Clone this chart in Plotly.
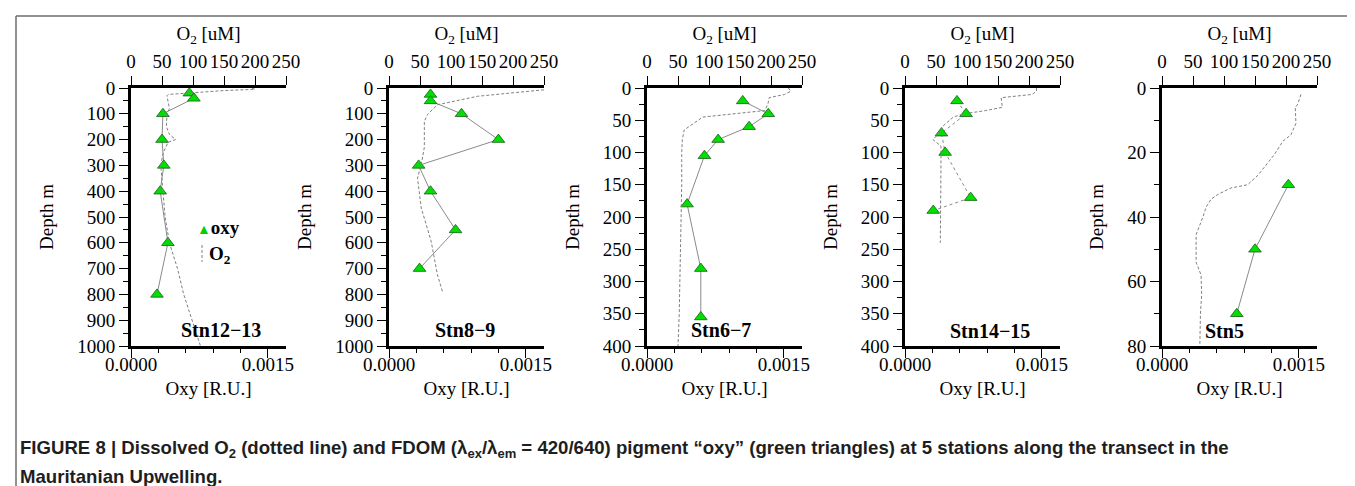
import plotly.graph_objects as go

W, H = 1355, 486

# ---------------- data ----------------
stations = ["Stn12\u221213", "Stn8\u22129", "Stn6\u22127", "Stn14\u221215", "Stn5"]

oxy_depth_1 = [20, 40, 100, 200, 300, 400, 600, 800]
oxy_val_1 = [0.00064, 0.00069, 0.00035, 0.00034, 0.00036, 0.00032, 0.000405, 0.000285]
o2_depth_1 = [0, 5, 10, 20, 25, 30, 50, 80, 100, 150, 180, 200, 210, 250, 300, 350, 400, 500, 600, 700, 800, 900, 1000]
o2_val_1 = [195, 200, 150, 80, 60, 58, 60, 62, 58, 57, 62, 72, 60, 52, 48, 50, 52, 55, 62, 75, 85, 98, 112]

oxy_depth_2 = [25, 50, 100, 200, 300, 400, 550, 700]
oxy_val_2 = [0.000455, 0.000455, 0.000795, 0.00120, 0.000325, 0.000455, 0.00073, 0.000335]
o2_depth_2 = [7, 19, 32, 65, 103, 129, 230, 297, 349, 465, 594, 723, 795]
o2_val_2 = [250, 196, 143, 78, 62, 57, 57, 52, 46, 52, 68, 78, 87]

oxy_depth_3 = [20, 40, 60, 80, 105, 180, 280, 355]
oxy_val_3 = [0.00105, 0.00133, 0.00112, 0.00078, 0.00063, 0.00044, 0.00059, 0.00059]
o2_depth_3 = [0, 5, 10, 15, 25, 35, 45, 55, 65, 80, 100, 150, 200, 250, 300, 350, 400]
o2_val_3 = [228, 232, 222, 197, 195, 190, 90, 75, 60, 57, 56, 56, 55, 55, 53, 52, 50]

oxy_depth_4 = [20, 40, 70, 100, 170, 190]
oxy_val_4 = [0.00057, 0.00067, 0.00040, 0.00044, 0.00072, 0.00031]
o2_depth_4 = [0, 5, 10, 15, 30, 35, 40, 45, 60, 75, 80, 90, 120, 180, 240]
o2_val_4 = [212, 212, 205, 155, 157, 130, 95, 78, 60, 50, 45, 58, 58, 57, 57]

oxy_depth_5 = [30, 50, 70]
oxy_val_5 = [0.001386, 0.00102, 0.00082]
o2_depth_5 = [2, 5, 6, 11, 14.5, 16.5, 20.7, 23.8, 27, 30, 31, 33, 34.5, 37, 40, 45.5, 54, 58, 64, 70, 80]
o2_val_5 = [224, 219, 215, 216, 208, 195, 181, 168, 155, 138, 111, 90, 79, 71, 66, 55, 55, 63, 64, 62, 61]

oxy_depths = [oxy_depth_1, oxy_depth_2, oxy_depth_3, oxy_depth_4, oxy_depth_5]
oxy_vals = [oxy_val_1, oxy_val_2, oxy_val_3, oxy_val_4, oxy_val_5]
o2_depths = [o2_depth_1, o2_depth_2, o2_depth_3, o2_depth_4, o2_depth_5]
o2_vals = [o2_val_1, o2_val_2, o2_val_3, o2_val_4, o2_val_5]

depth_max = [1000, 1000, 400, 400, 80]
depth_dtick = [100, 100, 50, 50, 20]

oxy_ticks = [0, 0.0015]
oxy_ticktext = ["0.0000", "0.0015"]
o2_ticks = [0, 50, 100, 150, 200, 250]

# ---------------- layout geometry (pixels) ----------------
panel_left = [123, 381, 639, 897, 1154]
panel_width = 155
plot_top, plot_bottom = 80, 338

SERIF = "Liberation Serif, Times New Roman, serif"
tickfont = dict(family=SERIF, size=19, color="black")
titlefont = dict(family=SERIF, size=19, color="black")

fig = go.Figure()
layout = {}

for i in range(5):
    n = i + 1
    xb = 2 * i + 1
    xt = 2 * i + 2
    xb_name = "x" if xb == 1 else f"x{xb}"
    xt_name = f"x{xt}"
    y_name = "y" if n == 1 else f"y{n}"
    dom_x = [panel_left[i] / W, (panel_left[i] + panel_width) / W]
    dom_y = [1 - plot_bottom / H, 1 - plot_top / H]

    conn_dash = "dot" if i == 3 else "solid"
    fig.add_trace(go.Scatter(
        x=oxy_vals[i], y=oxy_depths[i], xaxis=xb_name, yaxis=y_name,
        mode="lines+markers", name="oxy", showlegend=False,
        line=dict(color="#8a8a8a", width=1, dash=conn_dash),
        marker=dict(symbol="triangle-up", size=11, color="#00e000",
                    line=dict(color="#1a5a1a", width=0.8)),
        cliponaxis=False,
    ))
    fig.add_trace(go.Scatter(
        x=o2_vals[i], y=o2_depths[i], xaxis=xt_name, yaxis=y_name,
        mode="lines", name="O2", showlegend=False,
        line=dict(color="#808080", width=1, dash="3px,2px"),
    ))

    key_b = "xaxis" if xb == 1 else f"xaxis{xb}"
    key_t = f"xaxis{xt}"
    key_y = "yaxis" if n == 1 else f"yaxis{n}"

    layout[key_b] = dict(
        domain=dom_x, anchor=y_name, range=[0, 0.0017], side="bottom",
        tickmode="array", tickvals=oxy_ticks, ticktext=oxy_ticktext,
        ticks="outside", ticklen=9, tickwidth=1, tickcolor="black",
        ticklabelstandoff=-10,
        minor=dict(tickmode="linear", tick0=0, dtick=0.0003, ticks="outside",
                   ticklen=4, tickwidth=1, tickcolor="black", showgrid=False),
        showline=True, linewidth=3, linecolor="black", showgrid=False, zeroline=False,
        tickfont=tickfont,
        title=dict(text="Oxy [R.U.]", font=titlefont, standoff=8),
        automargin=False,
    )
    layout[key_t] = dict(
        domain=dom_x, anchor=y_name, overlaying=xb_name, side="top", range=[0, 250],
        tickmode="array", tickvals=o2_ticks,
        ticks="outside", ticklen=9, tickwidth=1, tickcolor="black",
        showline=True, linewidth=3, linecolor="black", showgrid=False, zeroline=False,
        tickfont=tickfont,
        title=dict(text="O<sub>2</sub> [uM]", font=titlefont, standoff=6),
        automargin=False,
    )
    layout[key_y] = dict(
        domain=dom_y, anchor=xb_name, range=[depth_max[i], 0],
        tick0=0, dtick=depth_dtick[i],
        ticks="outside", ticklen=9, tickwidth=1, tickcolor="black",
        minor=dict(tickmode="linear", tick0=0, dtick=depth_dtick[i] / 2, ticks="outside",
                   ticklen=5, tickwidth=1, tickcolor="black", showgrid=False),
        showline=True, linewidth=3, linecolor="black", showgrid=False, zeroline=False,
        tickfont=tickfont,
        title=dict(text="Depth m", font=titlefont, standoff=19),
        automargin=False,
    )

station_pos = [(213, 322), (457, 322), (713, 322), (982, 323), (1216, 323)]
annotations = []
for name, (px, py) in zip(stations, station_pos):
    annotations.append(dict(
        text=f"<b>{name}</b>", x=px / W, y=1 - py / H, xref="paper", yref="paper",
        showarrow=False, xanchor="center", yanchor="middle",
        font=dict(family=SERIF, size=20, color="black"),
    ))

# legend (panel 1)
annotations.append(dict(
    text="<span style='color:#00d000;font-size:14px'>\u25B2</span><b>oxy</b>", x=187 / W, y=1 - 219 / H,
    xref="paper", yref="paper", showarrow=False, xanchor="left", yanchor="middle",
    font=dict(family=SERIF, size=19, color="black"),
))
annotations.append(dict(
    text="<b>O<sub>2</sub></b>", x=199 / W, y=1 - 247 / H,
    xref="paper", yref="paper", showarrow=False, xanchor="left", yanchor="middle",
    font=dict(family=SERIF, size=19, color="black"),
))

CAP = "Liberation Sans, Arial, sans-serif"
annotations.append(dict(
    text="<b>FIGURE 8 | Dissolved O<sub>2</sub> (dotted line) and FDOM (\u03bb<sub>ex</sub>/\u03bb<sub>em</sub> = 420/640) "
         "pigment \u201coxy\u201d (green triangles) at 5 stations along the transect in the</b>",
    x=10 / W, y=1 - 441 / H, xref="paper", yref="paper", showarrow=False,
    xanchor="left", yanchor="middle", font=dict(family=CAP, size=18.6, color="#1e1e1e"),
))
annotations.append(dict(
    text="<b>Mauritanian Upwelling.</b>",
    x=10 / W, y=1 - 468 / H, xref="paper", yref="paper", showarrow=False,
    xanchor="left", yanchor="middle", font=dict(family=CAP, size=18.6, color="#1e1e1e"),
))

shapes = [
    dict(type="line", xref="paper", yref="paper", x0=8 / W, x1=1, y0=1 - 8 / H, y1=1 - 8 / H,
         line=dict(color="#6e6e6e", width=1.5)),
    dict(type="line", xref="paper", yref="paper", x0=8 / W, x1=8 / W, y0=0, y1=1 - 8 / H,
         line=dict(color="#6e6e6e", width=1.5)),
    dict(type="line", xref="paper", yref="paper", x0=194 / W, x1=194 / W, y0=1 - 237 / H, y1=1 - 254 / H,
         line=dict(color="#808080", width=1, dash="3px,2px")),
]

fig.update_layout(
    width=W, height=H, margin=dict(l=0, r=0, t=0, b=0),
    paper_bgcolor="white", plot_bgcolor="white",
    showlegend=False, annotations=annotations, shapes=shapes,
    **layout,
)

fig.write_html("out.html")
